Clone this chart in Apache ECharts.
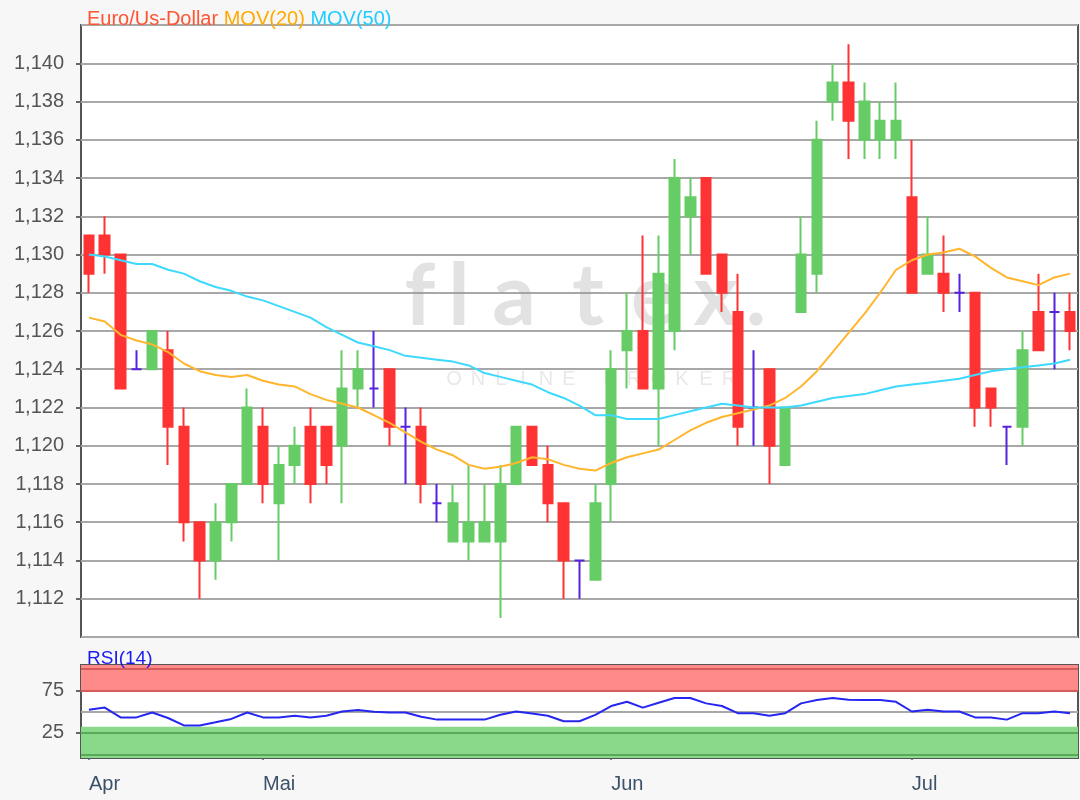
<!DOCTYPE html>
<html><head><meta charset="utf-8">
<script src="https://cdn.jsdelivr.net/npm/echarts@6/dist/echarts.min.js"></script>
<style>html,body{margin:0;padding:0;background:#f7f7f7}#c{width:1080px;height:800px}</style>
</head><body><div id="c"></div>
<script>
// ---- data ----
const openVals  = [1.131,1.131,1.130,1.124,1.124,1.125,1.121,1.116,1.114,1.116,1.118,1.121,1.117,1.119,1.121,1.121,1.120,1.123,1.123,1.124,1.121,1.121,1.117,1.115,1.115,1.115,1.115,1.118,1.121,1.119,1.117,1.114,1.113,1.118,1.125,1.126,1.123,1.126,1.132,1.134,1.130,1.127,1.122,1.124,1.119,1.127,1.129,1.138,1.139,1.136,1.136,1.136,1.133,1.129,1.129,1.128,1.128,1.123,1.121,1.121,1.127,1.127,1.127];
const closeVals = [1.129,1.130,1.123,1.124,1.126,1.121,1.116,1.114,1.116,1.118,1.122,1.118,1.119,1.120,1.118,1.119,1.123,1.124,1.123,1.121,1.121,1.118,1.117,1.117,1.116,1.116,1.118,1.121,1.119,1.117,1.114,1.114,1.117,1.124,1.126,1.123,1.129,1.134,1.133,1.129,1.128,1.121,1.122,1.120,1.122,1.130,1.136,1.139,1.137,1.138,1.137,1.137,1.128,1.130,1.128,1.128,1.122,1.122,1.121,1.125,1.125,1.127,1.126];
const lowVals   = [1.128,1.129,1.123,1.124,1.124,1.119,1.115,1.112,1.113,1.115,1.118,1.117,1.114,1.118,1.117,1.118,1.117,1.122,1.122,1.120,1.118,1.117,1.116,1.115,1.114,1.115,1.111,1.118,1.119,1.116,1.112,1.112,1.113,1.116,1.123,1.123,1.120,1.125,1.130,1.129,1.127,1.120,1.120,1.118,1.119,1.127,1.128,1.137,1.135,1.135,1.135,1.135,1.128,1.129,1.127,1.127,1.121,1.121,1.119,1.120,1.125,1.124,1.125];
const highVals  = [1.131,1.132,1.130,1.125,1.126,1.126,1.122,1.116,1.117,1.118,1.123,1.122,1.120,1.121,1.122,1.121,1.125,1.125,1.126,1.124,1.122,1.122,1.118,1.118,1.119,1.118,1.119,1.121,1.121,1.120,1.117,1.114,1.118,1.125,1.128,1.131,1.131,1.135,1.134,1.134,1.130,1.129,1.125,1.124,1.122,1.132,1.137,1.140,1.141,1.139,1.138,1.139,1.136,1.132,1.131,1.129,1.128,1.123,1.121,1.126,1.129,1.128,1.128];
const ma20 = [1.1267,1.1265,1.1258,1.1255,1.1253,1.1249,1.1243,1.1239,1.1237,1.1236,1.1237,1.1234,1.1232,1.1231,1.1227,1.1224,1.1222,1.1220,1.1216,1.1212,1.1207,1.1202,1.1198,1.1195,1.1190,1.1188,1.1189,1.1191,1.1194,1.1193,1.1190,1.1188,1.1187,1.1191,1.1194,1.1196,1.1198,1.1203,1.1208,1.1212,1.1215,1.1217,1.1219,1.1221,1.1225,1.1231,1.1239,1.1249,1.1259,1.1269,1.1280,1.1292,1.1297,1.1300,1.1301,1.1303,1.1299,1.1293,1.1288,1.1286,1.1284,1.1288,1.1290];
const ma50 = [1.1300,1.1299,1.1297,1.1295,1.1295,1.1292,1.1290,1.1286,1.1283,1.1281,1.1278,1.1276,1.1273,1.1270,1.1267,1.1262,1.1258,1.1254,1.1252,1.1250,1.1247,1.1246,1.1245,1.1244,1.1242,1.1238,1.1236,1.1234,1.1232,1.1228,1.1225,1.1221,1.1216,1.1216,1.1214,1.1214,1.1214,1.1216,1.1218,1.1220,1.1222,1.1221,1.1220,1.1220,1.1220,1.1221,1.1223,1.1225,1.1226,1.1227,1.1229,1.1231,1.1232,1.1233,1.1234,1.1235,1.1237,1.1239,1.1240,1.1241,1.1242,1.1243,1.1245];
const rsi14 = [52,54.6,43,43,48.8,42.3,33.5,33.5,37.3,41.2,48.8,43,43,45,43,45,50,51.9,49.6,48.8,48.8,43.8,40.4,40.4,40.4,40.4,46.2,50,47.7,45,38.5,38.5,46,56.5,61.5,54.6,60.4,66,66,59.6,56.5,48,48,45,48,59.6,63.5,66,64,63.5,63.5,61.5,50,52,50,50,43,43,40.4,48,48,50,48];
const categories = openVals.map((_, i) => String(i + 1));
const monthLabels = ['Apr', 'Mai', 'Jun', 'Jul'];
const monthStarts = [0, 11, 33, 52];
const priceTicks = {min: 1.110, max: 1.142, step: 0.002};
const rsiLabels = [25, 75];

// ---- styles ----
const UP = '#66cc66', DOWN = '#ff3333', DOJI = '#5522dd';
const candleData = openVals.map((o, i) => {
  const item = {value: [o, closeVals[i], lowVals[i], highVals[i]]};
  if (o === closeVals[i]) item.itemStyle = {color: DOJI, color0: DOJI, borderColor: DOJI, borderColor0: DOJI};
  return item;
});
const isMonth = (i) => monthStarts.indexOf(i) >= 0;
const FONT = 'Liberation Sans, Arial, sans-serif';

const wmLetters = [['f',420],['l',459],['a',514],['t',588],['e',654],['x',716],['.',756]];
const obLetters = [['O',454],['N',478],['L',501],['I',523],['N',546],['E',569],['B',610],['R',634],['O',658],['K',682],['E',706],['R',729]];
const graphics = [];
wmLetters.forEach(([ch, x]) => graphics.push({type:'text', x: x, y: 340, z: 1, silent: true,
  style: {text: ch, fontSize: 86, fontWeight: 'bold', fontFamily: 'Lato, sans-serif', fill: 'rgba(150,150,150,0.28)', align: 'center', verticalAlign: 'bottom'}}));
obLetters.forEach(([ch, x]) => graphics.push({type:'text', x: x, y: 379, z: 1, silent: true,
  style: {text: ch, fontSize: 20, fontFamily: FONT, fill: 'rgba(150,150,150,0.22)', align: 'center', verticalAlign: 'middle'}}));

const chart = echarts.init(document.getElementById('c'));
chart.setOption({
  backgroundColor: '#f7f7f7',
  animation: false,
  graphic: graphics,
  title: [
    {left: 82, top: 4, text: '{a|Euro/Us-Dollar} {b|MOV(20)} {c|MOV(50)}',
     textStyle: {fontSize: 20, fontFamily: FONT, fontWeight: 'normal',
       rich: {a: {color: '#ff5533', fontSize: 20, fontFamily: FONT},
              b: {color: '#ffaa00', fontSize: 20, fontFamily: FONT},
              c: {color: '#22ccff', fontSize: 20, fontFamily: FONT}}}},
    {left: 82, top: 644, text: 'RSI(14)', textStyle: {color: '#1a1aee', fontSize: 19, fontFamily: FONT, fontWeight: 'normal'}}
  ],
  grid: [
    {left: 81, right: 2, top: 25, height: 612, show: true, backgroundColor: '#ffffff', borderColor: '#555555', borderWidth: 2},
    {left: 81, right: 2, top: 665, height: 93, show: true, backgroundColor: '#ffffff', borderColor: '#555555', borderWidth: 2}
  ],
  xAxis: [
    {type: 'category', gridIndex: 0, data: categories, boundaryGap: true,
     axisLine: {show: false}, axisTick: {show: false}, axisLabel: {show: false}, splitLine: {show: false}},
    {type: 'category', gridIndex: 1, data: categories, boundaryGap: true,
     axisLine: {show: false},
     axisTick: {show: true, alignWithLabel: true, interval: (i) => isMonth(i), length: 6, lineStyle: {color: '#4a6078', width: 2}},
     axisLabel: {interval: (i) => isMonth(i), formatter: (v, i) => monthLabels[monthStarts.indexOf(i)] || '',
       align: 'left', color: '#3c5268', fontSize: 20, fontFamily: FONT, margin: 16},
     splitLine: {show: false}}
  ],
  yAxis: [
    {type: 'value', gridIndex: 0, min: priceTicks.min, max: priceTicks.max, interval: priceTicks.step, scale: true,
     axisLine: {show: false},
     axisTick: {show: true, length: 5, lineStyle: {color: '#666666', width: 2}},
     axisLabel: {showMinLabel: false, showMaxLabel: false, formatter: (v) => v.toFixed(3).replace('.', ','),
       color: '#555555', fontSize: 20, fontFamily: FONT, margin: 17},
     splitLine: {show: true, lineStyle: {color: '#a8a8a8', width: 2}}},
    {type: 'value', gridIndex: 1, min: -5, max: 105,
     axisLine: {show: false},
     axisTick: {show: true, customValues: rsiLabels, length: 5, lineStyle: {color: '#666666', width: 2}},
     axisLabel: {customValues: rsiLabels, color: '#555555', fontSize: 20, fontFamily: FONT, margin: 17},
     splitLine: {show: false}}
  ],
  series: [
    {type: 'candlestick', xAxisIndex: 0, yAxisIndex: 0, data: candleData, barWidth: 10, z: 3,
     itemStyle: {color: UP, color0: DOWN, borderColor: UP, borderColor0: DOWN, borderWidth: 2}},
    {type: 'line', name: 'MOV(20)', xAxisIndex: 0, yAxisIndex: 0, data: ma20, symbol: 'none', z: 4,
     lineStyle: {color: '#ffb62e', width: 2}},
    {type: 'line', name: 'MOV(50)', xAxisIndex: 0, yAxisIndex: 0, data: ma50, symbol: 'none', z: 4,
     lineStyle: {color: '#3dd9ff', width: 2}},
    {type: 'line', name: 'RSI(14)', xAxisIndex: 1, yAxisIndex: 1, data: rsi14, symbol: 'none', z: 5,
     lineStyle: {color: '#2626f0', width: 2},
     markArea: {silent: true, data: [
       [{yAxis: 73.5, itemStyle: {color: '#ff8a8a'}}, {yAxis: 105}],
       [{yAxis: 32, itemStyle: {color: '#8ad88a'}}, {yAxis: -5}]
     ]},
     markLine: {silent: true, symbol: 'none', label: {show: false}, data: [
       {yAxis: 50, lineStyle: {color: '#a8a8a8', width: 2, type: 'solid'}},
       {yAxis: 75, lineStyle: {color: '#d65c5c', width: 2, type: 'solid'}},
       {yAxis: 100, lineStyle: {color: '#d65c5c', width: 2, type: 'solid'}},
       {yAxis: 25, lineStyle: {color: '#5aa85a', width: 2, type: 'solid'}},
       {yAxis: -1, lineStyle: {color: '#5aa85a', width: 2, type: 'solid'}}
     ]}}
  ]
});
</script></body></html>
